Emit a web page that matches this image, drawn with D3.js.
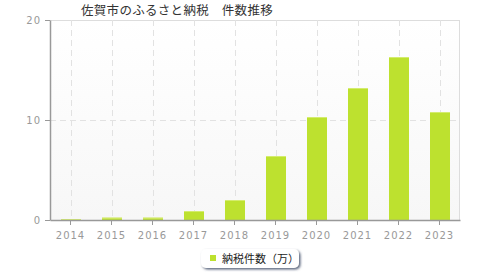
<!DOCTYPE html>
<html>
<head>
<meta charset="utf-8">
<script src="https://cdn.jsdelivr.net/npm/d3@7"></script>
<style>
  body { margin: 0; background: #fff; }
  text { font-family: "Noto Sans CJK JP", "DejaVu Sans", sans-serif; }
</style>
</head>
<body>
<script>
const years = ["2014", "2015", "2016", "2017", "2018", "2019", "2020", "2021", "2022", "2023"];
const counts = [0.1, 0.23, 0.23, 0.9, 2.0, 6.4, 10.3, 13.2, 16.3, 10.8];
const yTicks = [0, 10, 20];
const title = "佐賀市のふるさと納税\u3000件数推移";
const seriesName = "納税件数（万）";

const margin = {top: 20, right: 20, bottom: 60, left: 50},
    width = 480 - margin.left - margin.right,
    height = 280 - margin.top - margin.bottom;

const barColor = "#bde12f";

const root = d3.select("body")
    .append("svg")
    .attr("width", 480)
    .attr("height", 280);

// background gradient
const defs = root.append("defs");
const grad = defs.append("linearGradient")
    .attr("id", "bg")
    .attr("x1", 0).attr("y1", 0).attr("x2", 0).attr("y2", 1);
grad.append("stop").attr("offset", "0%").attr("stop-color", "#ffffff");
grad.append("stop").attr("offset", "100%").attr("stop-color", "#f7f7f7");

const shadow = defs.append("filter").attr("id", "shadow")
    .attr("x", "-10%").attr("y", "-20%").attr("width", "130%").attr("height", "160%");
shadow.append("feDropShadow")
    .attr("dx", 1.5).attr("dy", 1.5).attr("stdDeviation", 0.8)
    .attr("flood-color", "#4a5470").attr("flood-opacity", 0.9);

const svg = root.append("g")
    .attr("transform", `translate(${margin.left},${margin.top})`);

const x = d3.scaleBand()
    .domain(years)
    .range([0, width]);

const y = d3.scaleLinear()
    .domain([0, 20])
    .range([height, 0]);

svg.append("rect")
    .attr("width", width)
    .attr("height", height)
    .attr("fill", "url(#bg)");

// top and right borders
svg.append("line")
    .attr("x1", 0).attr("x2", width).attr("y1", 0.5).attr("y2", 0.5)
    .attr("stroke", "#dddddd");
svg.append("line")
    .attr("x1", width - 0.5).attr("x2", width - 0.5).attr("y1", 0).attr("y2", height)
    .attr("stroke", "#dddddd");

// grid
svg.selectAll(".vgrid")
    .data(years)
    .join("line")
    .attr("class", "vgrid")
    .attr("x1", d => Math.round(x(d) + x.bandwidth() / 2) + 0.5)
    .attr("x2", d => Math.round(x(d) + x.bandwidth() / 2) + 0.5)
    .attr("y1", 0)
    .attr("y2", height)
    .attr("stroke", "#e2e2e2")
    .attr("stroke-dasharray", "6,4");

svg.selectAll(".hgrid")
    .data(yTicks.filter(t => t > 0 && t < 20))
    .join("line")
    .attr("class", "hgrid")
    .attr("x1", 0)
    .attr("x2", width)
    .attr("y1", d => Math.round(y(d)) + 0.5)
    .attr("y2", d => Math.round(y(d)) + 0.5)
    .attr("stroke", "#e2e2e2")
    .attr("stroke-dasharray", "6,4");

// bars
const barW = 20;
svg.selectAll(".bar")
    .data(years)
    .join("rect")
    .attr("class", "bar")
    .attr("x", d => Math.round(x(d) + x.bandwidth() / 2 - barW / 2))
    .attr("width", barW)
    .attr("y", (d, i) => y(counts[i]))
    .attr("height", (d, i) => height - y(counts[i]))
    .attr("fill", barColor);

svg.selectAll(".bartop")
    .data(years)
    .join("rect")
    .attr("class", "bartop")
    .attr("x", d => Math.round(x(d) + x.bandwidth() / 2 - barW / 2))
    .attr("width", barW)
    .attr("y", (d, i) => y(counts[i]))
    .attr("height", (d, i) => Math.min(1, height - y(counts[i])))
    .attr("fill", "#d4ec6e");

// axes
const xAxis = svg.append("g")
    .attr("transform", `translate(0,${height})`)
    .call(d3.axisBottom(x).tickSize(5).tickSizeOuter(0));
xAxis.select(".domain").attr("stroke", "#999").attr("stroke-width", 1.5);
xAxis.selectAll(".tick line").attr("stroke", "#999");
xAxis.selectAll(".tick text")
    .attr("fill", "#999")
    .attr("dy", "1.1em")
    .style("font-size", "10px")
    .style("font-family", "DejaVu Sans, sans-serif")
    .style("letter-spacing", "1px");

const yAxis = svg.append("g")
    .call(d3.axisLeft(y).tickValues(yTicks).tickSize(5).tickSizeOuter(0));
yAxis.select(".domain").attr("stroke", "#999").attr("stroke-width", 1.5);
yAxis.selectAll(".tick line").attr("stroke", "#999");
yAxis.selectAll(".tick text")
    .attr("fill", "#999")
    .attr("x", -9)
    .style("font-size", "10px")
    .style("font-family", "DejaVu Sans, sans-serif")
    .style("letter-spacing", "1px");

// title
root.append("text")
    .attr("x", 81)
    .attr("y", 15)
    .attr("fill", "#333")
    .style("font-size", "12.5px")
    .style("letter-spacing", "0.3px")
    .text(title);

// legend
const legend = root.append("g")
    .attr("transform", "translate(201,249)");
legend.append("rect")
    .attr("width", 98)
    .attr("height", 19)
    .attr("rx", 5)
    .attr("fill", "#fff")
    .attr("filter", "url(#shadow)");
legend.append("rect")
    .attr("x", 9)
    .attr("y", 6)
    .attr("width", 6)
    .attr("height", 6)
    .attr("fill", barColor);
legend.append("text")
    .attr("x", 21)
    .attr("y", 14)
    .attr("fill", "#222")
    .style("font-size", "11px")
    .style("letter-spacing", "0px")
    .text(seriesName);
</script>
</body>
</html>
